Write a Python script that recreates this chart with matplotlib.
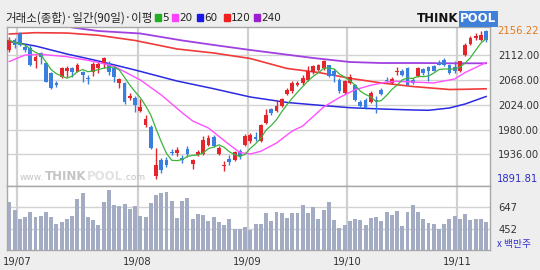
import matplotlib.pyplot as plt
import numpy as np
import pandas as pd

W, H = 540, 270

# daily candles, 2019-06-27 .. 2019-11-08
opens = [2121.4, 2139.1, 2149.3, 2126.7, 2124.4, 2101.9, 2116.1, 2097.8, 2080.0, 2062.9,
         2074.0, 2084.1, 2089.5, 2082.9, 2082.9, 2072.3, 2082.9, 2088.9, 2096.0, 2097.8,
         2088.9, 2062.3, 2062.3, 2035.7, 2036.8, 2013.2, 1988.4, 1985.3, 1898.4, 1926.3,
         1926.3, 1941.0, 1939.2, 1930.3, 1946.3, 1919.2, 1935.7, 1936.9, 1953.4, 1967.1,
         1936.9, 1915.1, 1928.6, 1926.8, 1942.8, 1952.3, 1959.4, 1966.5, 1959.4, 1991.9,
         2016.7, 2012.6, 2021.5, 2042.8, 2048.1, 2058.8, 2062.9, 2068.7, 2082.4, 2086.5,
         2089.5, 2094.3, 2083.6, 2068.7, 2045.1, 2062.9, 2059.8, 2029.2, 2033.2, 2029.2,
         2033.2, 2051.0, 2068.7, 2062.9, 2082.4, 2084.7, 2089.5, 2068.7, 2074.7, 2088.2,
         2090.7, 2092.5, 2098.3, 2104.2, 2094.3, 2090.7, 2083.6, 2112.0, 2132.0, 2142.7,
         2139.7, 2155.7]
highs = [2145.0, 2143.2, 2152.8, 2130.3, 2130.3, 2112.5, 2118.4, 2100.6, 2082.9, 2066.4,
         2091.8, 2093.5, 2091.8, 2097.8, 2084.1, 2077.1, 2100.6, 2100.6, 2109.5, 2101.9,
         2091.8, 2071.2, 2065.2, 2044.6, 2040.3, 2034.5, 2006.1, 1988.4, 1948.1, 1930.3,
         1932.1, 1945.8, 1949.9, 1935.1, 1951.1, 1928.6, 1944.5, 1968.3, 1970.1, 1970.1,
         1950.6, 1925.0, 1934.6, 1942.8, 1946.3, 1972.4, 1974.2, 1975.9, 1990.1, 2017.3,
         2018.5, 2033.2, 2036.2, 2054.0, 2065.9, 2066.9, 2076.5, 2092.5, 2094.3, 2096.6,
         2104.2, 2095.3, 2088.2, 2071.7, 2068.7, 2078.8, 2061.1, 2033.2, 2036.2, 2048.1,
         2039.3, 2054.0, 2073.0, 2073.0, 2090.7, 2088.2, 2090.7, 2071.7, 2090.7, 2089.5,
         2092.5, 2094.3, 2104.2, 2107.2, 2096.6, 2101.4, 2102.4, 2133.8, 2145.7, 2152.0,
         2154.6, 2156.22]
lows = [2118.4, 2125.5, 2128.5, 2118.4, 2093.5, 2089.5, 2096.6, 2064.1, 2052.2, 2056.3,
        2071.2, 2073.0, 2074.0, 2081.9, 2064.1, 2060.6, 2075.8, 2080.6, 2089.5, 2076.5,
        2064.1, 2054.5, 2025.1, 2032.7, 2010.9, 2010.9, 1985.3, 1945.8, 1891.81, 1902.7,
        1914.4, 1935.2, 1933.9, 1920.9, 1931.6, 1910.8, 1932.8, 1935.7, 1950.6, 1948.8,
        1934.6, 1907.3, 1916.9, 1925.0, 1928.6, 1950.6, 1956.4, 1959.4, 1958.2, 1990.1,
        2005.6, 2011.4, 2019.8, 2041.6, 2045.1, 2057.0, 2059.8, 2065.9, 2078.8, 2084.7,
        2086.5, 2073.0, 2064.6, 2045.1, 2043.3, 2061.1, 2031.5, 2018.5, 2017.3, 2027.4,
        2009.6, 2041.6, 2064.6, 2061.1, 2077.6, 2074.7, 2058.8, 2061.1, 2073.0, 2077.6,
        2066.9, 2083.6, 2094.3, 2092.5, 2078.8, 2080.6, 2082.4, 2110.2, 2130.8, 2139.7,
        2137.9, 2135.6]
closes = [2139.1, 2130.3, 2130.3, 2121.4, 2094.8, 2109.5, 2109.0, 2065.2, 2053.4, 2059.3,
          2088.9, 2090.0, 2082.9, 2094.8, 2077.1, 2069.9, 2096.0, 2096.0, 2106.7, 2082.9,
          2074.0, 2069.9, 2029.7, 2039.8, 2023.8, 2020.8, 1999.0, 1947.0, 1917.4, 1908.5,
          1917.4, 1938.2, 1944.0, 1926.8, 1936.9, 1926.8, 1940.5, 1962.3, 1965.3, 1950.6,
          1947.5, 1917.9, 1922.7, 1940.5, 1932.8, 1968.3, 1970.1, 1964.0, 1988.9, 2005.6,
          2009.6, 2021.5, 2034.5, 2051.0, 2062.9, 2062.9, 2071.7, 2083.6, 2092.5, 2094.3,
          2102.4, 2074.7, 2074.7, 2048.1, 2065.9, 2073.0, 2033.2, 2021.5, 2018.5, 2045.1,
          2030.4, 2043.3, 2066.9, 2070.5, 2083.6, 2077.6, 2059.8, 2062.9, 2089.5, 2080.6,
          2083.6, 2084.7, 2095.3, 2094.3, 2080.6, 2083.6, 2101.4, 2130.8, 2142.7, 2145.7,
          2147.5, 2139.7]
# volume, million shares
volumes = [697, 623, 541, 564, 608, 564, 570, 608, 564, 499,
           514, 541, 570, 718, 771, 564, 534, 487, 697, 800,
           667, 659, 676, 635, 659, 570, 558, 688, 756, 776,
           785, 703, 549, 703, 727, 543, 588, 579, 526, 558,
           517, 487, 546, 457, 457, 470, 446, 496, 502, 594,
           526, 608, 599, 555, 594, 599, 670, 594, 652, 546,
           623, 694, 534, 461, 487, 523, 541, 534, 487, 552,
           564, 523, 603, 579, 612, 481, 603, 670, 603, 546,
           510, 496, 452, 499, 546, 572, 546, 588, 534, 541,
           546, 517]

# longer moving averages, read at sample candles
ma20_idx = [0, 3, 6, 11, 16, 20, 25, 29, 33, 35, 38, 42, 44, 46, 48, 51, 54, 56, 60,
            63, 66, 69, 72, 74, 77, 81, 85, 87, 91]
ma20_val = [2101.0, 2112.5, 2113.8, 2109.5, 2101.4, 2092.5, 2068.2, 2041.6, 2010.0,
            1995.4, 1983.0, 1953.4, 1939.6, 1936.9, 1941.7, 1956.4, 1977.7, 1986.6,
            2020.3, 2037.1, 2051.0, 2058.8, 2064.6, 2065.9, 2064.6, 2062.9, 2070.0,
            2081.5, 2099.2]
ma60_idx = [0, 5, 11, 17, 24, 32, 39, 46, 53, 59, 65, 71, 77, 80, 84, 87, 91]
ma60_val = [2136.5, 2128.5, 2114.3, 2101.9, 2085.9, 2066.4, 2052.7, 2038.0, 2028.3,
            2023.5, 2019.0, 2016.7, 2015.0, 2014.4, 2018.5, 2025.6, 2038.9]
ma120_idx = [0, 5, 11, 17, 24, 32, 39, 46, 53, 59, 65, 71, 77, 84, 87, 91]
ma120_val = [2149.8, 2152.1, 2151.5, 2147.5, 2138.3, 2123.2, 2116.1, 2106.3, 2088.6,
             2081.5, 2071.2, 2062.9, 2056.6, 2051.3, 2051.7, 2052.6]
ma240_idx = [12, 17, 25, 33, 39, 46, 52, 58, 65, 71, 78, 85, 91]
ma240_val = [2161.3, 2155.1, 2150.7, 2138.3, 2130.3, 2121.4, 2114.3, 2107.2, 2100.1,
             2098.3, 2098.3, 2097.8, 2097.8]

month_pos = [1.5, 24.5, 45.5, 64.5, 85.5]
month_labels = ['19/07', '19/08', '19/09', '19/10', '19/11']
price_ticks = [1936, 1980, 2024, 2068, 2112]
vol_ticks = [452, 647]

RED = '#e4262c'
BLUE = '#3a7ee0'
KR = ['Noto Sans CJK KR', 'DejaVu Sans']


def box(x0, y0, x1, y1):
    return [x0 / W, 1 - y1 / H, (x1 - x0) / W, (y1 - y0) / H]


fig = plt.figure(figsize=(5.4, 2.7), dpi=100)
fig.patch.set_facecolor('#eeeeee')

ax = fig.add_axes(box(7, 27, 490, 186))
axv = fig.add_axes(box(7, 186, 490, 250), sharex=ax)

x = np.arange(len(closes))
o = np.array(opens)
c = np.array(closes)
col = np.where(c >= o, RED, BLUE)

# candles
ax.vlines(x, lows, highs, colors=col, lw=1, zorder=3)
ax.bar(x, np.maximum(np.abs(c - o), 1.3), bottom=np.minimum(o, c), width=0.72,
       color=col, linewidth=0, zorder=4)

# moving averages
ma5 = pd.Series(closes).rolling(5, min_periods=1).mean()
ax.plot(ma240_idx, ma240_val, color='#a040e0', lw=1.3, zorder=2)
ax.plot(ma120_idx, ma120_val, color='#f03a3a', lw=1.2, zorder=2)
ax.plot(ma60_idx, ma60_val, color='#2a2ae0', lw=1.1, zorder=2)
ax.plot(ma20_idx, ma20_val, color='#ff50ff', lw=1.0, zorder=5)
ax.plot(x, ma5, color='#3cb43c', lw=0.9, zorder=5)

ax.set_xlim(-0.44, 91.74)
ax.set_ylim(1880.1, 2162.2)

for a in (ax, axv):
    a.set_facecolor('white')
    for s in a.spines.values():
        s.set_color('#a8a8a8')
        s.set_linewidth(1)
    for m in month_pos:
        a.axvline(m, color='#d0d0d0', lw=1.6, zorder=0)

for t in price_ticks:
    ax.axhline(t, color='#d2d2d2', lw=1, zorder=0)
ax.yaxis.tick_right()
ax.set_yticks(price_ticks)
ax.set_yticklabels([f'{t:.2f}' for t in price_ticks])
ax.tick_params(axis='y', length=0, pad=6, labelsize=7.2, labelcolor='#333333')
ax.tick_params(axis='x', length=0, labelbottom=False)
ax.text(497 / W, 1 - 31 / H, '2156.22', transform=fig.transFigure, ha='left',
        va='center', fontsize=7.2, color='#e07a20')
ax.text(497 / W, 1 - 179.5 / H, '1891.81', transform=fig.transFigure, ha='left',
        va='center', fontsize=7.2, color='#2c2cc8')

# volume
axv.bar(x, volumes, width=0.75, color='#a4acc4', linewidth=0, zorder=2)
axv.set_ylim(268, 836)
for t in vol_ticks:
    axv.axhline(t, color='#d2d2d2', lw=1, zorder=0)
axv.yaxis.tick_right()
axv.set_yticks(vol_ticks)
axv.set_yticklabels([str(t) for t in vol_ticks])
axv.tick_params(axis='y', length=0, pad=6, labelsize=7.2, labelcolor='#333333')
axv.set_xticks(month_pos)
axv.set_xticklabels(month_labels)
axv.tick_params(axis='x', length=0, pad=5, labelsize=7.2, labelcolor='#333333')
fig.text(497 / W, 1 - 244 / H, 'x 백만주', family=KR, fontsize=7, color='#3030d0',
         ha='left', va='center')

# header: title and legend
fig.text(5 / W, 1 - 18 / H, '거래소(종합)·일간(90일)·이평', family=KR, fontsize=8.3,
         color='#222222', ha='left', va='center')
legend = [('5', '#22b022', 155), ('20', '#ff40ff', 172), ('60', '#1a1ae6', 197),
          ('120', '#f02020', 224), ('240', '#9a20d0', 254)]
for lab, lc, lx in legend:
    fig.patches.append(plt.Rectangle((lx / W, 1 - 21 / H), 5.5 / W, 6.5 / H,
                                     transform=fig.transFigure, color=lc))
    fig.text((lx + 7) / W, 1 - 18 / H, lab, fontsize=7.5, color='#222222',
             ha='left', va='center')

# logo
fig.text(458 / W, 1 - 19 / H, 'THINK', fontsize=8.5, fontweight='bold',
         color='#111111', ha='right', va='center')
fig.text(460 / W, 1 - 19 / H, 'POOL', fontsize=8.5, fontweight='bold',
         color='white', ha='left', va='center',
         bbox=dict(boxstyle='square,pad=0.12', fc='#3f80d8', ec='none'))

# watermark, pieces laid out one after another
renderer = fig.canvas.get_renderer()
wx = 20
for piece, size, weight, pc in [('www.', 6.5, 'normal', '#c4c4c4'),
                                ('THINK', 8.5, 'bold', '#c4c4c4'),
                                ('POOL', 8.5, 'bold', '#e2e2e2'),
                                ('.com', 6.5, 'normal', '#c4c4c4')]:
    t = fig.text(wx / W, 1 - 177 / H, piece, fontsize=size, fontweight=weight,
                 color=pc, ha='left', va='center')
    wx += t.get_window_extent(renderer=renderer).width + 0.5

fig.savefig('out.png', dpi=100, facecolor=fig.get_facecolor())
